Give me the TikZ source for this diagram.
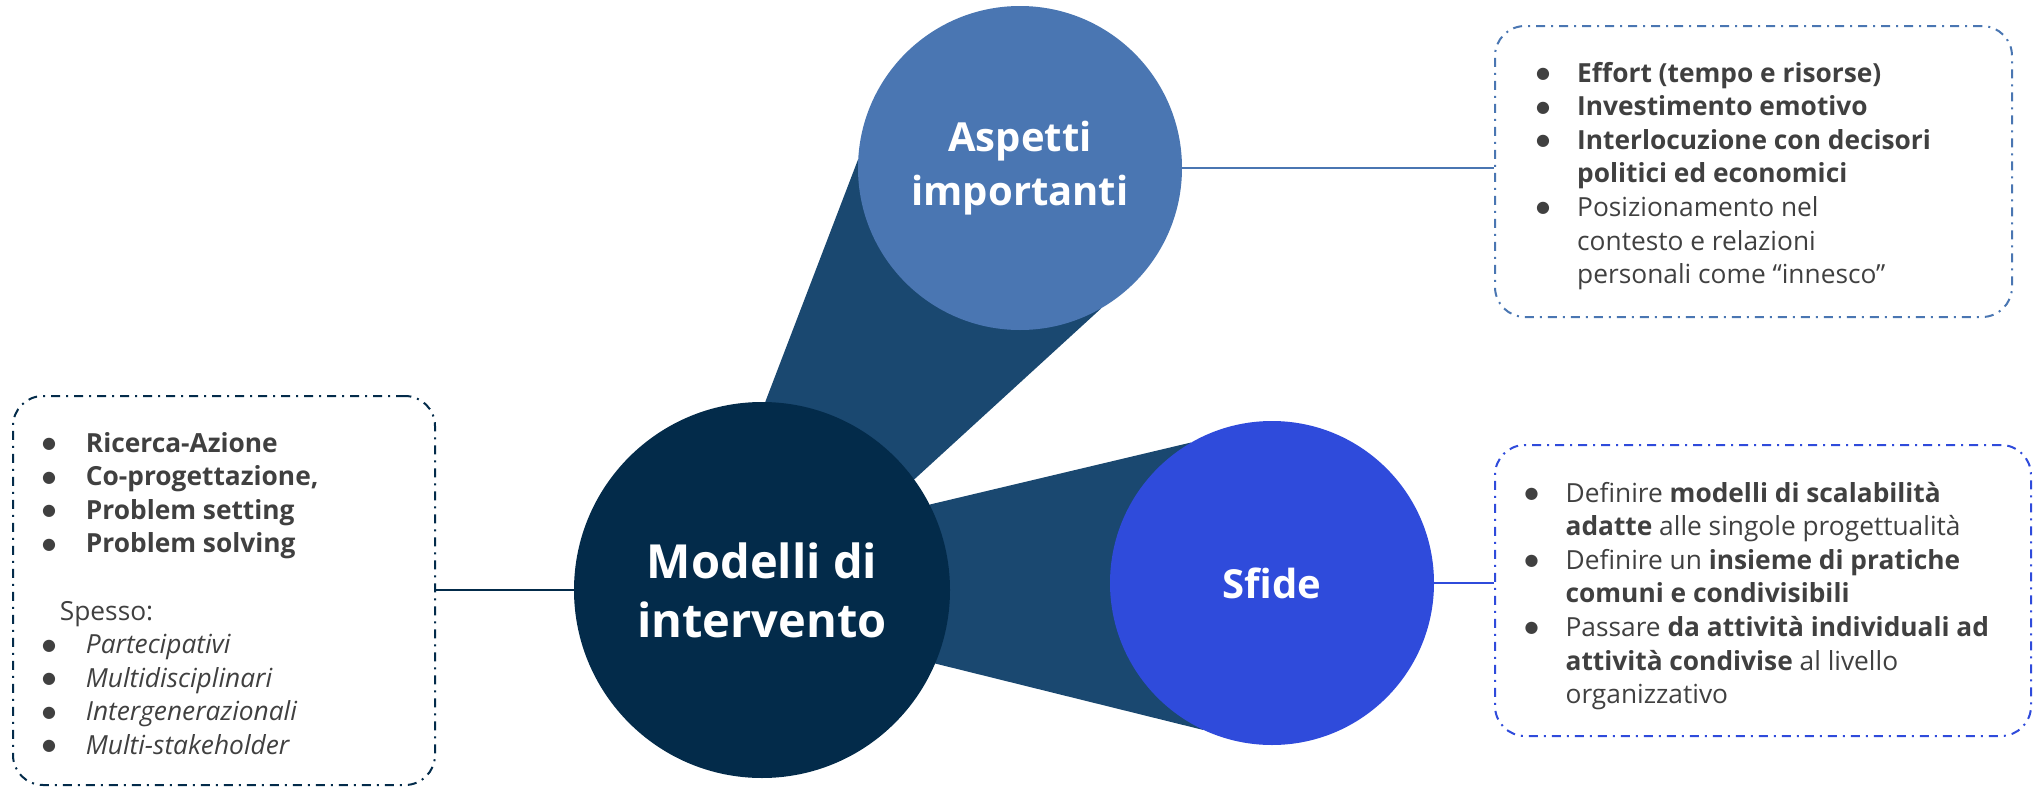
\documentclass[tikz,border=0pt]{standalone}
\usepackage{fontspec}
\setmainfont{Open Sans}
\newfontfamily\symf{DejaVu Sans}
\usetikzlibrary{backgrounds}
\definecolor{navy}{HTML}{032B4A}
\definecolor{band}{HTML}{1A4870}
\definecolor{aspblue}{HTML}{4A76B2}
\definecolor{sfblue}{HTML}{2F4BDB}
\definecolor{txt}{HTML}{404040}
\newcommand\bul{\makebox[0pt][c]{\raisebox{3.5pt}{\symf\fontsize{16}{16}\selectfont ●}}}
\tikzset{
  hub/.style={circle, inner sep=0pt, text=white, font=\fontsize{47}{59}\selectfont\bfseries, align=center},
  sat/.style={circle, inner sep=0pt, minimum size=324pt, text=white, font=\fontsize{40}{54}\selectfont\bfseries, align=center},
  infobox/.style={draw, rounded corners=30pt, line width=2pt, dash pattern=on 9pt off 6pt on 2pt off 6pt, inner sep=0pt},
  link/.style={line width=2.2pt},
  listtext/.style={anchor=base west, inner sep=0pt, text=txt, font=\fontsize{26.3}{33.6}\selectfont, align=left}
}
\begin{document}
\begin{tikzpicture}[x=1pt,y=-1pt]
\useasboundingbox (0,0) rectangle (2035,787);
% circles
\node[hub, fill=navy, minimum size=376pt] (m) at (762,590) {Modelli di\\intervento};
\node[sat, fill=aspblue] (a) at (1020,168) {Aspetti\\importanti};
\node[sat, fill=sfblue] (s) at (1272,583) {Sfide};
% bands
\begin{scope}[on background layer]
\fill[band] (m.89) -- (a.177.6) -- (a.-60) -- (m.36.8) -- cycle;
\fill[band] (m.27.3) -- (s.120.8) -- (s.-115) -- (m.-23.2) -- cycle;
\end{scope}
% boxes
\node[infobox, draw=navy, minimum width=422pt, minimum height=389pt] (lb) at (224,590.5) {};
\node[infobox, draw=aspblue, minimum width=517pt, minimum height=291pt] (tb) at (1753.5,171.5) {};
\node[infobox, draw=sfblue, minimum width=536pt, minimum height=291pt] (bb) at (1763,590.5) {};
% connectors
\draw[link, navy] (m.west) -- (m.west -| lb.east);
\draw[link, aspblue] (a.east) -- (a.east -| tb.west);
\draw[link, sfblue] (s.east) -- (s.east -| bb.west);
% texts
\node[listtext] (lt) at (49,452) {%
\begin{tabular}[t]{@{}l@{\hspace{36.7pt}}l@{}}
\bul & \textbf{Ricerca-Azione}\\
\bul & \textbf{Co-progettazione,}\\
\bul & \textbf{Problem setting}\\
\bul & \textbf{Problem solving}\\
 & \\
\multicolumn{2}{@{\hspace{10.7pt}}l@{}}{Spesso:}\\
\bul & \textit{Partecipativi}\\
\bul & \textit{Multidisciplinari}\\
\bul & \textit{Intergenerazionali}\\
\bul & \textit{Multi-stakeholder}
\end{tabular}};
\node[listtext] (tt) at (1543,82) {%
\begin{tabular}[t]{@{}l@{\hspace{34pt}}l@{}}
\bul & \textbf{Effort (tempo e risorse)}\\
\bul & \textbf{Investimento emotivo}\\
\bul & \textbf{Interlocuzione con decisori}\\
 & \textbf{politici ed economici}\\
\bul & Posizionamento nel\\
 & contesto e relazioni\\
 & personali come “innesco”
\end{tabular}};
\node[listtext] (bt) at (1531.4,502) {%
\begin{tabular}[t]{@{}l@{\hspace{34pt}}l@{}}
\bul & Definire \textbf{modelli di scalabilità}\\
 & \textbf{adatte} alle singole progettualità\\
\bul & Definire un \textbf{insieme di pratiche}\\
 & \textbf{comuni e condivisibili}\\
\bul & Passare \textbf{da attività individuali ad}\\
 & \textbf{attività condivise} al livello\\
 & organizzativo
\end{tabular}};
\end{tikzpicture}
\end{document}
